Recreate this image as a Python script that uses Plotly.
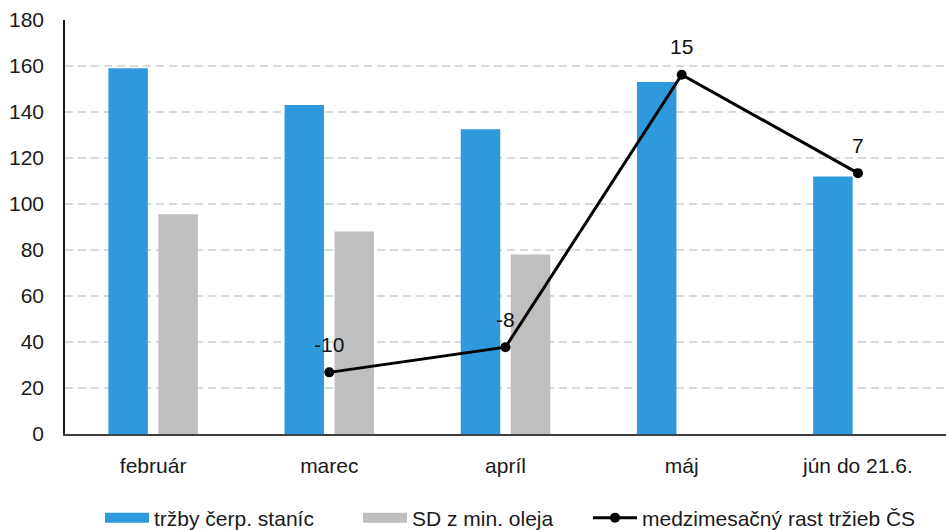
import plotly.graph_objects as go

categories = ["február", "marec", "apríl", "máj", "jún do 21.6."]
trzby = [159, 143, 132.5, 153, 112]
sd_olej = [95.5, 88, 78, None, None]
rast_cat = ["marec", "apríl", "máj", "jún do 21.6."]
rast = [-10.0, -7.9, 14.8, 6.6]

BLUE = "#2E9ADC"
GRAY = "#BFBFBF"
FONT = "Liberation Sans"
FS = 21

fig = go.Figure()
fig.add_trace(go.Bar(x=categories, y=trzby, name="tržby čerp. staníc",
                     marker=dict(color=BLUE, line=dict(width=0)), showlegend=False))
fig.add_trace(go.Bar(x=categories, y=sd_olej, name="SD z min. oleja",
                     marker=dict(color=GRAY, line=dict(width=0)), showlegend=False))
fig.add_trace(go.Scatter(x=rast_cat, y=rast, yaxis="y2", mode="lines+markers",
                         name="medzimesačný rast tržieb ČS",
                         line=dict(color="black", width=3),
                         marker=dict(color="black", size=10), showlegend=False))

# legend entries
fig.add_trace(go.Scatter(x=[None], y=[None], mode="lines", name="tržby čerp. staníc",
                         line=dict(color=BLUE, width=13), legend="legend"))
fig.add_trace(go.Scatter(x=[None], y=[None], mode="lines", name="SD z min. oleja",
                         line=dict(color=GRAY, width=13), legend="legend2"))
fig.add_trace(go.Scatter(x=[None], y=[None], mode="lines+markers",
                         name="medzimesačný rast tržieb ČS",
                         line=dict(color="black", width=3),
                         marker=dict(color="black", size=10), legend="legend3"))

for c, v in zip(rast_cat, rast):
    fig.add_annotation(x=c, y=v, yref="y2", text=f"{v:.0f}", showarrow=False,
                       yshift=28, font=dict(size=FS, color="#111"))

leg = dict(orientation="h", xanchor="left", yanchor="middle",
           yref="container", y=1 - 518 / 530,
           itemwidth=44, font=dict(size=FS), bgcolor="rgba(0,0,0,0)",
           borderwidth=0, tracegroupgap=0)
fig.update_layout(
    width=946, height=530,
    margin=dict(l=65, r=0, t=20, b=96, autoexpand=False),
    paper_bgcolor="white", plot_bgcolor="white",
    font=dict(family=FONT, size=FS, color="#1a1a1a"),
    barmode="group", bargap=0.4325, bargroupgap=0.21,
    xaxis=dict(showline=True, linecolor="#404040", linewidth=1.5, automargin=False,
               ticks="", ticklabelstandoff=12, showgrid=False),
    yaxis=dict(range=[0, 180], dtick=20, showline=True, linecolor="#1a1a1a",
               linewidth=1.5, showgrid=True, gridcolor="#D9D9D9", gridwidth=1.5,
               griddash="8px,5px", zeroline=False, ticks="", ticklabelstandoff=15,
               automargin=False),
    yaxis2=dict(range=[-15.136, 19.36], overlaying="y", side="right",
                visible=False, showgrid=False, automargin=False),
    legend=dict(leg, x=(100 - 65) / 881),
    legend2=dict(leg, x=(358 - 65) / 881),
    legend3=dict(leg, x=(588 - 65) / 881),
)

fig.write_html("out.html", config={"displayModeBar": False},
               post_script="document.body.style.margin='0';")
